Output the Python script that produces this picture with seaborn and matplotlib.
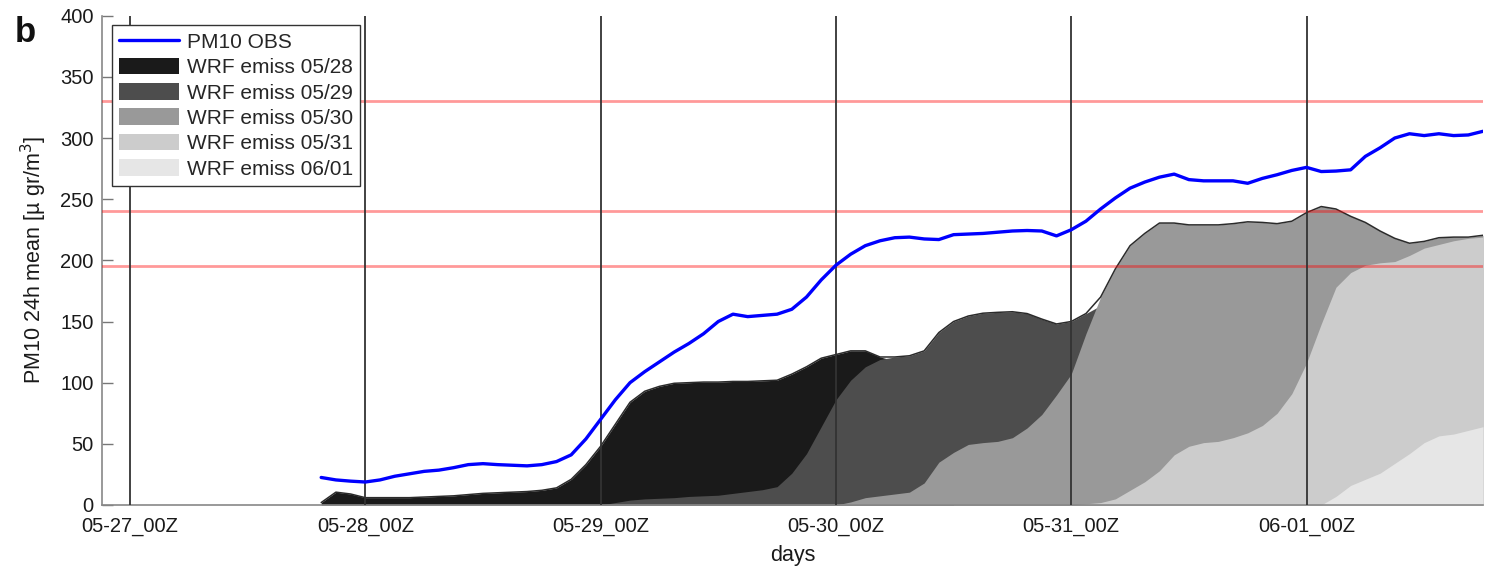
import numpy as np
import pandas as pd
import matplotlib
matplotlib.use("Agg")
import matplotlib.pyplot as plt
from matplotlib.lines import Line2D
from matplotlib.patches import Patch
import seaborn as sns

nan = np.nan

# Time axis: hours since 05-27 00Z, every 1.5 h from 05-27 18Z to 06-01 18Z
hours = np.arange(18, 139.5, 1.5)

# Observed PM10 24h running mean
pm10_obs = [nan, 22.5, 20.5, 19.5, 18.8, 20.5, 23.5, 25.5, 27.5, 28.5, 30.5, 33,
            33.8, 33, 32.5, 32, 33, 35.5, 41, 54, 70, 86, 100, 109, 117, 125, 132,
            140, 150, 156, 154, 155, 156, 160, 170, 184, 196, 205, 212, 216, 218.5,
            219, 217.5, 217, 221, 221.5, 222, 223, 224, 224.4, 224, 220, 225, 232,
            242, 251, 259, 264, 268, 270.5, 266, 265, 265, 265, 263, 267, 270,
            273.5, 276, 272.6, 273, 274, 285, 292, 300, 303.5, 302, 303.5, 302,
            302.5, 305.5]

# WRF runs with emissions initialised on successive days
wrf_0528 = [nan, 2, 10.5, 9, 6, 6, 6, 6, 6.5, 7, 7.5, 8.5, 9.5, 10, 10.5, 11, 12,
            14, 21, 33, 48, 66, 84, 93, 97, 99.5, 100, 100.5, 100.5, 101, 101,
            101.5, 102, 107, 113, 120, 123, 126, 126, 121, 118, 117, 115, 113,
            112] + [nan] * 36
wrf_0529 = [nan] * 20 + [0, 2, 4, 5, 5.5, 6, 7, 7.5, 8, 9.5, 11, 12.5, 15, 26, 42,
                          64, 86, 102, 113, 119, 121, 122, 126, 141, 150, 154.5,
                          156.8, 157.5, 158, 156.5, 152, 148, 150, 156.5, 163, 170,
                          180, 183, 185] + [nan] * 22
wrf_0530 = [nan] * 36 + [0, 2.5, 6, 7.5, 9, 10.5, 18, 35, 43, 49.5, 51, 52, 55, 63,
                          74, 90, 107, 140, 170, 193, 212, 222, 230.5, 230.5, 229,
                          229, 229, 230, 231.5, 231, 230, 232, 239, 244, 242, 236,
                          231, 224, 218, 214, 215.5, 218.5, 219, 219, 220.5]
wrf_0531 = [nan] * 52 + [0, 1, 2, 5, 12, 19, 28, 41, 48, 51, 52, 55, 59, 65, 75, 91,
                          116, 148, 178, 190, 196, 198, 199, 204, 210, 213, 216, 218,
                          219]
wrf_0601 = [nan] * 69 + [0, 7, 16, 21, 26, 34, 42, 51, 56.5, 58, 61, 64]

run_labels = ["WRF emiss 05/28", "WRF emiss 05/29", "WRF emiss 05/30",
              "WRF emiss 05/31", "WRF emiss 06/01"]
run_colors = ["#1a1a1a", "#4d4d4d", "#999999", "#cccccc", "#e6e6e6"]

# PM10 reference levels
thresholds = [195, 240, 330]

day_ticks = [0, 1, 2, 3, 4, 5]
day_labels = ["05-27_00Z", "05-28_00Z", "05-29_00Z", "05-30_00Z",
              "05-31_00Z", "06-01_00Z"]

days = hours / 24.0
runs_arr = np.array([wrf_0528, wrf_0529, wrf_0530, wrf_0531, wrf_0601], dtype=float)

sns.set_theme(style="white")
plt.rcParams["font.family"] = ["Liberation Sans", "DejaVu Sans"]

fig = plt.figure(figsize=(14.86, 5.78), dpi=100)
ax = fig.add_axes([102 / 1486, 1 - 505 / 578, (1483 - 102) / 1486, (505 - 15.7) / 578])

# Forecast runs as overlapping filled areas, older runs at the back
for vals, col in zip(runs_arr, run_colors):
    ax.fill_between(days, 0, vals, color=col, linewidth=0, zorder=2)

# Outline of the upper envelope of all runs
filled = np.where(np.isnan(runs_arr), -np.inf, runs_arr)
envelope = filled.max(axis=0)
envelope[np.isinf(envelope)] = np.nan
ax.plot(days, envelope, color="#2b2b2b", lw=1.1, zorder=3)

# Reference levels
for t in thresholds:
    ax.axhline(t, color="red", alpha=0.4, lw=2, zorder=4)

# Day separators
for d in day_ticks:
    ax.axvline(d, color="#333333", lw=1.3, zorder=4)

df_obs = pd.DataFrame({"days": days, "pm10": pm10_obs})
sns.lineplot(data=df_obs, x="days", y="pm10", color="#0000ff", lw=2.4, ax=ax,
             zorder=5)

ax.set_xlim(-0.119, 5.75)
ax.set_ylim(0, 400)
ax.set_yticks(range(0, 401, 50))
ax.set_xticks(day_ticks)
ax.set_xticklabels(day_labels)
ax.tick_params(axis="y", direction="in", length=8, width=1, color="#777777",
               labelsize=14.5, labelcolor="#1a1a1a", pad=6, left=True)
ax.tick_params(axis="x", length=0, labelsize=14.5, labelcolor="#1a1a1a", pad=9)
for side in ["top", "right"]:
    ax.spines[side].set_visible(False)
for side in ["left", "bottom"]:
    ax.spines[side].set_color("#888888")
    ax.spines[side].set_linewidth(1.2)

ax.set_xlabel("days", fontsize=15.5, color="#1a1a1a", labelpad=6)
ax.set_ylabel("PM10 24h mean [µ gr/m$^3$]", fontsize=15.5, color="#1a1a1a",
              labelpad=8)

handles = [Line2D([0], [0], color="#0000ff", lw=2.4)]
handles += [Patch(facecolor=c, edgecolor="none") for c in run_colors]
labels = ["PM10 OBS"] + run_labels
leg = ax.legend(handles, labels, loc="upper left", bbox_to_anchor=(0.007, 0.981),
                borderaxespad=0, fontsize=15, frameon=True, fancybox=False,
                framealpha=1, edgecolor="#333333", handlelength=2.9,
                handleheight=0.85, handletextpad=0.35, labelspacing=0.28,
                borderpad=0.35)
leg.get_frame().set_linewidth(1.0)
leg.set_zorder(10)

fig.text(15 / 1486, 1 - 32 / 578, "b", fontsize=25, fontweight="bold",
         color="#111111", va="center", ha="left")

fig.savefig("out.png", dpi=100)
